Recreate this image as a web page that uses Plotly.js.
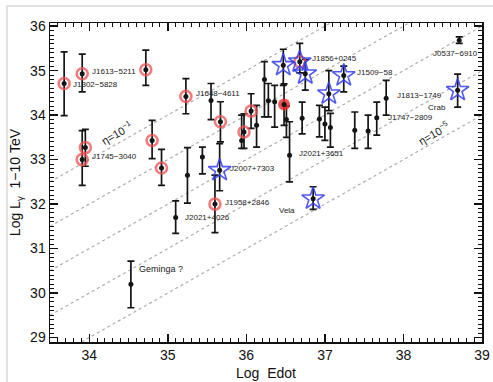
<!DOCTYPE html>
<html>
<head>
<meta charset="utf-8">
<script src="https://cdn.plot.ly/plotly-3.0.1.min.js"></script>
<style>
  html, body { margin: 0; padding: 0; background: #fff; }
  #chart { position: absolute; left: 0; top: 0; width: 493px; height: 382px; }
  #frame { position: absolute; left: 6px; top: 5px; width: 487px; height: 377px;
           border-top: 2px solid #e3e3e3; border-left: 2px solid #e3e3e3; pointer-events: none; }
</style>
</head>
<body>
<div id="chart"></div>
<div id="frame"></div>
<script>
// Pulsar spin-down power vs. 1-10 TeV gamma-ray luminosity (log10 values)
const edot  = [33.68, 33.91, 34.72, 33.95, 33.91, 34.80, 34.92, 35.23, 35.55, 35.67,
               35.25, 35.44, 35.10, 34.53, 35.60, 35.66, 35.94, 35.97, 36.06, 36.13,
               36.23, 36.28, 36.36, 36.47, 36.68, 36.75, 36.48, 36.51, 36.55, 36.71,
               36.93, 37.00, 37.07, 37.05, 37.24, 37.38, 37.55, 37.66, 37.78, 38.69,
               38.71, 36.85];
const lumin = [34.71, 34.93, 35.02, 33.27, 33.00, 33.43, 32.81, 34.42, 34.33, 33.85,
               32.65, 33.06, 31.70, 30.20, 32.00, 32.76, 33.43, 33.62, 34.09, 33.77,
               34.80, 34.32, 34.30, 35.12, 35.20, 34.93, 34.24, 33.90, 33.10, 33.93,
               33.91, 33.80, 33.72, 34.48, 34.89, 33.66, 33.64, 33.94, 34.38, 34.56,
               35.68, 32.12];
const lumLo = [33.99, 34.52, 34.67, 32.85, 32.42, 33.02, 32.42, 34.03, 33.90, 33.40,
               32.02, 32.68, 31.34, 29.67, 31.36, 32.30, 33.25, 33.25, 33.70, 33.28,
               33.96, 33.96, 33.73, 34.67, 34.95, 34.56, 33.77, 33.50, 32.50, 33.58,
               33.51, 33.43, 33.28, 34.10, 34.52, 33.25, 33.25, 33.55, 34.00, 34.18,
               35.61, 31.88];
const lumHi = [35.42, 35.37, 35.46, 33.68, 33.65, 33.88, 33.23, 34.82, 34.71, 34.30,
               33.27, 33.28, 32.07, 30.72, 32.65, 33.36, 34.00, 34.03, 34.48, 34.22,
               35.20, 34.71, 34.67, 35.48, 35.61, 35.25, 34.70, 34.20, 33.85, 34.29,
               34.22, 34.18, 34.04, 35.00, 35.10, 34.07, 34.00, 34.29, 34.78, 34.92,
               35.76, 32.39];
// '' plain point, 'ring' red circle, 'disk' filled red circle, 'star' blue star
const marks = ['ring', 'ring', 'ring', 'ring', 'ring', 'ring', 'ring', 'ring', '', 'ring',
               '', '', '', '', 'ring', 'star', '', 'ring', 'ring', '',
               '', '', '', 'star', 'ring+star', 'star', 'disk', '', '', '',
               '', '', '', 'star', 'star', '', '', '', '', 'star',
               '', 'star'];
const names = ['J1302\u22125828', 'J1613\u22125211', '', '', 'J1745\u22123040', '', '', 'J1648\u22124611', '', '',
               '', '', 'J2021+4026', 'Geminga ?', 'J1958+2846', 'J2007+7303', '', '', '', '',
               '', '', '', '', 'J1856+0245', '', '', '', 'J2021+3651', '',
               '', '', '', '', 'J1509\u221258', '', '', 'J1747\u22122809', 'J1813\u22121749', 'Crab',
               'J0537\u22126910', 'Vela'];

// efficiency lines  L = eta * Edot
const etaExponents = [-1, -2, -3, -4, -5];
const etaLabelled  = [-1, -5];
const xRange = [33.5, 39];
const yRange = [28.9, 36.07];

// label offsets in pixels relative to each named point
const labelPlace = {
  'J1302\u22125828': [7, -1, 'left'],
  'J1613\u22125211': [8, 2, 'left'],
  'J1745\u22123040': [8, 3, 'left'],
  'J1648\u22124611': [8, 3, 'left'],
  'J2007+7303':      [8, 2, 'left'],
  'J1958+2846':      [8, 2, 'left'],
  'J2021+4026':      [7, 0, 'left'],
  'Geminga ?':       [6, 15, 'left'],
  'J2021+3651':      [7, 2, 'left'],
  'Vela':            [-16, -12, 'right'],
  'J1856+0245':      [10, 3, 'left'],
  'J1509\u221258':   [11, 3, 'left'],
  'J1813\u22121749': [9, 3, 'left'],
  'Crab':            [-10, -17, 'right'],
  'J1747\u22122809': [9, 0, 'left'],
  'J0537\u22126910': [-4, -13, 'center']
};
const etaLabelAt = { '-1': [34.35, 11], '-5': [38.39, 9] };

const traces = [];

etaExponents.forEach(k => {
  traces.push({
    x: xRange.slice(), y: xRange.map(v => v + k),
    mode: 'lines', hoverinfo: 'skip', showlegend: false,
    line: { color: '#adadad', width: 1.2, dash: 'dot' }
  });
});

traces.push({
  x: edot, y: lumin, mode: 'markers', showlegend: false,
  marker: { size: 5, color: '#151515' },
  error_y: {
    type: 'data', symmetric: false,
    array: lumHi.map((h, i) => h - lumin[i]),
    arrayminus: lumLo.map((l, i) => lumin[i] - l),
    color: '#151515', thickness: 1.7, width: 3.5
  }
});

function pick(arr, test) { return arr.filter((_, i) => test(marks[i])); }

traces.push({
  x: pick(edot, m => m === 'disk'), y: pick(lumin, m => m === 'disk'),
  mode: 'markers', showlegend: false,
  marker: { symbol: 'circle', size: 12, color: 'rgba(235,40,40,0.8)',
            line: { width: 0 } }
});
traces.push({
  x: pick(edot, m => m === 'disk'), y: pick(lumin, m => m === 'disk'),
  mode: 'markers', showlegend: false,
  marker: { size: 5, color: '#151515' }
});
traces.push({
  x: pick(edot, m => m.indexOf('ring') >= 0), y: pick(lumin, m => m.indexOf('ring') >= 0),
  mode: 'markers', showlegend: false,
  marker: { symbol: 'circle-open', size: 11, color: 'rgba(238,80,80,0.75)',
            line: { width: 2.6, color: 'rgba(238,80,80,0.75)' } }
});
traces.push({
  x: pick(edot, m => m.indexOf('star') >= 0), y: pick(lumin, m => m.indexOf('star') >= 0),
  mode: 'markers', showlegend: false,
  marker: { symbol: 'star-open', size: 17, color: 'rgba(50,60,240,0.85)',
            line: { width: 1.6, color: 'rgba(50,60,240,0.85)' } }
});

const annotations = [];
names.forEach((n, i) => {
  if (!n) return;
  const p = labelPlace[n];
  annotations.push({
    x: edot[i], y: lumin[i], xref: 'x', yref: 'y', text: n, showarrow: false,
    xanchor: p[2], yanchor: 'middle', xshift: p[0], yshift: p[1],
    font: { family: 'Liberation Sans, Arial, sans-serif', size: n === 'Geminga ?' ? 9 : 8, color: '#222' }
  });
});
etaLabelled.forEach(k => {
  const at = etaLabelAt[String(k)];
  annotations.push({
    x: at[0], y: at[0] + k, xref: 'x', yref: 'y', showarrow: false,
    text: '\u03b7=10<sup>\u2212' + (-k) + '</sup>', textangle: -30,
    xanchor: 'center', yanchor: 'middle', yshift: at[1],
    font: { family: 'Liberation Sans, Arial, sans-serif', size: 11, color: '#222' }
  });
});

const axisCommon = {
  showgrid: false, zeroline: false, showline: true, linecolor: '#111', linewidth: 1.5,
  mirror: 'allticks', ticks: 'inside', ticklen: 8, tickwidth: 1.5, tickcolor: '#111',
  dtick: 1,
  minor: { dtick: 0.1, ticks: 'inside', ticklen: 4, tickwidth: 1, tickcolor: '#111' },
  tickfont: { family: 'Liberation Sans, Arial, sans-serif', size: 14, color: '#111' }
};

const layout = {
  width: 493, height: 382,
  margin: { l: 50, r: 11, t: 23, b: 40 },
  paper_bgcolor: '#fff', plot_bgcolor: '#fff',
  showlegend: false,
  xaxis: Object.assign({}, axisCommon, {
    range: xRange,
    title: { text: 'Log  Edot', standoff: 6,
             font: { family: 'Liberation Sans, Arial, sans-serif', size: 14, color: '#111' } }
  }),
  yaxis: Object.assign({}, axisCommon, {
    range: yRange,
    title: { text: 'Log L<sub>\u03b3</sub>  1\u221210 TeV', standoff: 6,
             font: { family: 'Liberation Sans, Arial, sans-serif', size: 14, color: '#111' } }
  }),
  annotations: annotations
};

Plotly.newPlot('chart', traces, layout, { staticPlot: true, displayModeBar: false });
</script>
</body>
</html>
